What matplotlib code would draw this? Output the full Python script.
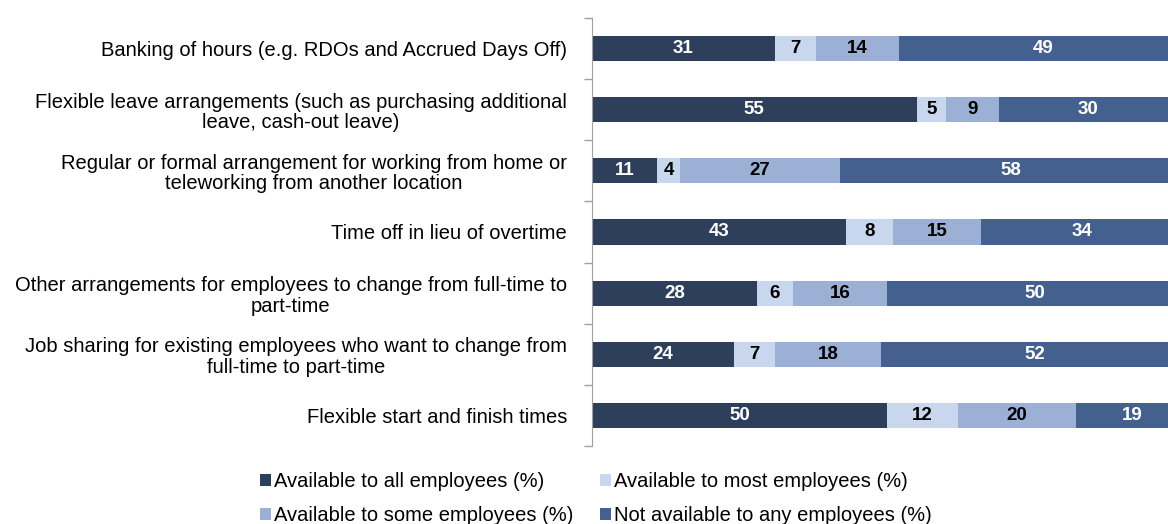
import numpy as np
import matplotlib.pyplot as plt

plt.rcParams['font.family'] = ['Liberation Sans', 'DejaVu Sans']

categories = [
    'Banking of hours (e.g. RDOs and Accrued Days Off)',
    'Flexible leave arrangements (such as purchasing additional\nleave, cash-out leave)',
    'Regular or formal arrangement for working from home or\nteleworking from another location',
    'Time off in lieu of overtime',
    'Other arrangements for employees to change from full-time to\npart-time',
    'Job sharing for existing employees who want to change from\nfull-time to part-time',
    'Flexible start and finish times',
]
all_emp = [31, 55, 11, 43, 28, 24, 50]
most_emp = [7, 5, 4, 8, 6, 7, 12]
some_emp = [14, 9, 27, 15, 16, 18, 20]
none_emp = [49, 30, 58, 34, 50, 52, 19]

series = [
    ('Available to all employees (%)', all_emp, '#2E3F5C', 'white'),
    ('Available to most employees (%)', most_emp, '#C9D7EE', 'black'),
    ('Available to some employees (%)', some_emp, '#9BB0D4', 'black'),
    ('Not available to any employees (%)', none_emp, '#43608E', 'white'),
]

fig = plt.figure(figsize=(11.68, 5.24), dpi=100)
ax = fig.add_axes([0.5068, 0.149, 0.4932, 0.8166])

y = np.arange(len(categories))
left = np.zeros(len(categories))
handles = []
for name, vals, col, tcol in series:
    vals = np.array(vals, dtype=float)
    bars = ax.barh(y, vals, left=left, height=0.41, color=col, label=name)
    handles.append(bars)
    for yi, l, v in zip(y, left, vals):
        ax.text(l + v / 2, yi, str(int(v)), ha='center', va='center',
                color=tcol, fontsize=13.5, fontweight='bold', clip_on=False)
    left += vals

ax.set_xlim(0, 97.6)
ax.set_ylim(len(categories) - 0.5, -0.5)
ax.set_yticks(y)
ax.set_yticklabels(categories, fontsize=14.5, linespacing=1.1)
for lab in ax.get_yticklabels():
    lab.set_multialignment('center')
ax.set_yticks(np.arange(-0.5, len(categories)), minor=True)
ax.tick_params(axis='y', which='major', length=0, pad=18)
ax.tick_params(axis='y', which='minor', length=6, color='#A0A0A0', width=1)
ax.set_xticks([])
for s in ['top', 'right', 'bottom']:
    ax.spines[s].set_visible(False)
ax.spines['left'].set_color('#A0A0A0')

order = [0, 2, 1, 3]
fig.legend([handles[i] for i in order], [series[i][0] for i in order],
           ncol=2, loc='upper center', bbox_to_anchor=(0.51, 0.118),
           frameon=False, fontsize=14.5, handlelength=0.55, handleheight=0.55,
           handletextpad=0.15, columnspacing=1.3, labelspacing=0.75,
           borderpad=0)

fig.savefig('out.png', dpi=100)
